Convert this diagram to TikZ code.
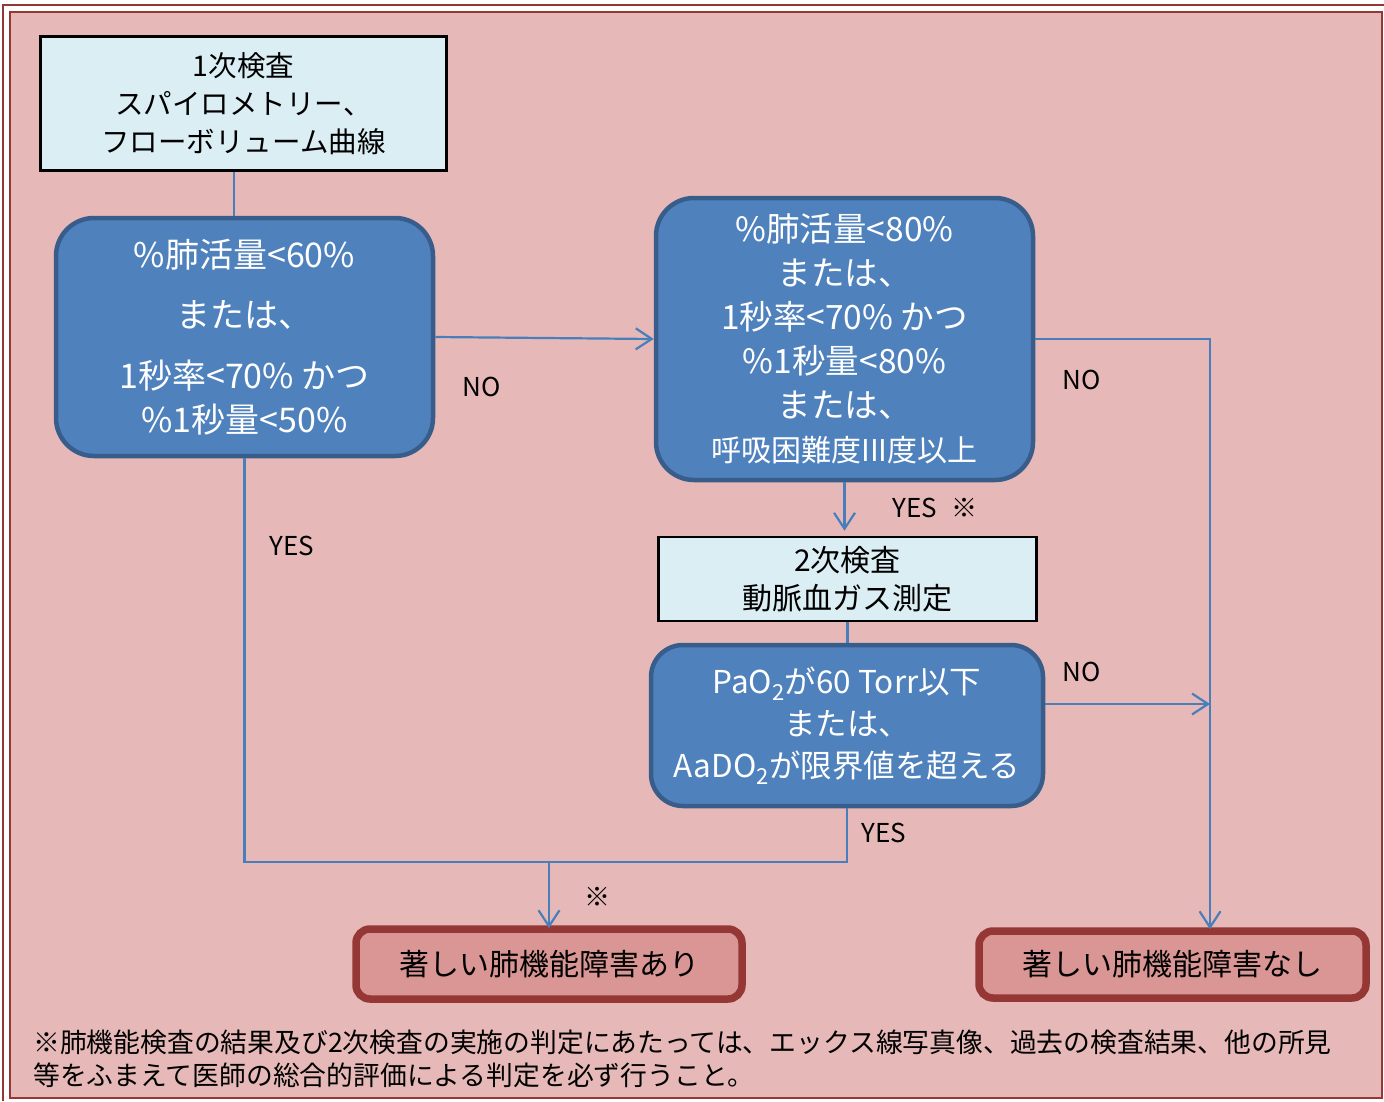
\documentclass[tikz,border=0pt]{standalone}
\usepackage{fontspec}
\newfontfamily\jp{Noto Sans CJK JP}
\usetikzlibrary{arrows.meta}
\definecolor{bgpink}{HTML}{E6B9B8}
\definecolor{framered}{HTML}{953735}
\definecolor{decfill}{HTML}{4F81BD}
\definecolor{decdraw}{HTML}{385D8A}
\definecolor{lightbox}{HTML}{DBEEF4}
\definecolor{resfill}{HTML}{D99694}
\definecolor{connblue}{HTML}{4A7EBB}
\tikzset{
  stepbox/.style={draw=black, line width=2.5pt, fill=lightbox, inner sep=0pt, align=center, text=black},
  decbox/.style={draw=decdraw, line width=4.5pt, fill=decfill, rounded corners=38pt, inner sep=0pt, align=center, text=white},
  resbox/.style={draw=framered, line width=7.5pt, fill=resfill, rounded corners=14pt, inner sep=0pt, align=center, text=black,
     font=\jp\fontsize{30}{36}\selectfont},
  conn/.style={draw=connblue, line width=2.2pt},
  arr/.style={conn, -{Straight Barb[length=16pt,width=21pt,line width=2.2pt]}},
  lbl/.style={inner sep=0pt, text=black, font=\jp\fontsize{26}{30}\selectfont},
}
\begin{document}
\begin{tikzpicture}[x=1pt,y=-1pt]
\useasboundingbox (0,0) rectangle (1384,1101);
% frame
\fill[white] (0,0) rectangle (1384,1101);
\draw[framered, line width=2pt] (3,1101) -- (3,5) -- (1384,5);
\draw[framered, line width=2.5pt, fill=bgpink] (10,12) rectangle (1382,1098);

% coordinates
\coordinate (c1) at (234,0);
\coordinate (rj) at (1210,0);
\coordinate (ny) at (0,704);
\coordinate (j) at (0,862);

% nodes
\node[stepbox, minimum width=406pt, minimum height=134pt, font=\jp\fontsize{28.5}{38}\selectfont] (box1) at (243.5,103.5)
  {1次検査\\スパイロメトリー、\\フローボリューム曲線};
\node[decbox, minimum width=377pt, minimum height=238pt, font=\jp\fontsize{34}{44}\selectfont] (d1) at (244.5,337)
  {\%肺活量<60\%\\[16pt]または、\\[17pt]1秒率<70\% かつ\\\%1秒量<50\%};
\node[decbox, minimum width=377pt, minimum height=282pt, font=\jp\fontsize{33.5}{44}\selectfont] (d2) at (844.5,339)
  {\%肺活量<80\%\\または、\\1秒率<70\% かつ\\\%1秒量<80\%\\または、\\{\fontsize{30}{34}\selectfont 呼吸困難度III度以上}};
\node[stepbox, minimum width=378pt, minimum height=84pt, font=\jp\fontsize{30}{38}\selectfont] (box2) at (847.5,579)
  {2次検査\\動脈血ガス測定};
\node[decbox, rounded corners=32pt, minimum width=392pt, minimum height=161pt, font=\jp\fontsize{31.5}{42}\selectfont] (d3) at (847,725.5)
  {PaO\textsubscript{2}が60 Torr以下\\または、\\AaDO\textsubscript{2}が限界値を超える};
\node[resbox, minimum width=386pt, minimum height=70pt] (ari) at (549,964) {著しい肺機能障害あり};
\node[resbox, minimum width=387pt, minimum height=67pt] (nashi) at (1172.5,964.5) {著しい肺機能障害なし};

% connectors
\draw[conn] (box1.south -| c1) -- (d1.north -| c1);
\draw[arr] (d1.east) -- (d2.west);
\draw[arr] (d2.east) -- (d2.east -| rj) -- ([yshift=-2pt]nashi.north -| rj);
\draw[arr, shorten >=5pt] (d2.south) -- (box2.north -| d2.south);
\draw[conn] (box2.south) -- (d3.north -| box2.south);
\draw[arr] (d3.east |- ny) -- (rj |- ny);
\draw[conn] (d1.south) -- (d1.south |- j) -- (d3.south |- j) -- (d3.south);
\draw[arr] (ari.north |- j) -- ([yshift=-3pt]ari.north);

% labels
\node[lbl] (lno1) at (482,387) {NO};
\node[lbl] (lno2) at (1082,380) {NO};
\node[lbl] (lyes2) at (935,508) {YES\hspace{14pt}※};
\node[lbl] (lyes1) at (292,546) {YES};
\node[lbl] (lno3) at (1082,672) {NO};
\node[lbl] (lyes3) at (884,833) {YES};
\node[lbl] (lmark) at (597,897) {※};

% footnote
\node[anchor=west, align=left, inner sep=0pt, font=\jp\fontsize{26.8}{33}\selectfont] (foot) at (33,1058.5)
  {※肺機能検査の結果及び2次検査の実施の判定にあたっては、エックス線写真像、過去の検査結果、他の所見\\等をふまえて医師の総合的評価による判定を必ず行うこと。};
\end{tikzpicture}
\end{document}
